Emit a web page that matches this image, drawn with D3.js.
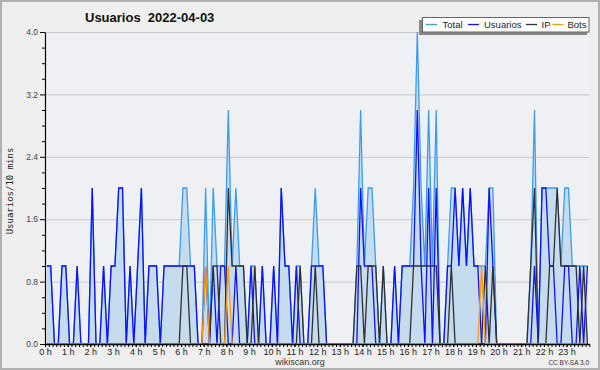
<!DOCTYPE html>
<html><head><meta charset="utf-8">
<script src="https://cdn.jsdelivr.net/npm/d3@7"></script>
<style>
html,body{margin:0;padding:0;background:#efefef;}
svg{display:block;}
</style></head><body>
<svg id="c" width="600" height="370"></svg>
<script>
// ---- data (one value per 10-minute slot, 144 slots) ----
const title = "Usuarios  2022-04-03";
const yLabel = "Usuarios/10 mins";
const hourLabels = ["0 h","1 h","2 h","3 h","4 h","5 h","6 h","7 h","8 h","9 h","10 h","11 h",
  "12 h","13 h","14 h","15 h","16 h","17 h","18 h","19 h","20 h","21 h","22 h","23 h"];
const yTicks = [0, 0.8, 1.6, 2.4, 3.2, 4.0];
const seriesNames = ["Total", "Usuarios", "IP", "Bots"];

const total = [
  1,1,0,0,1,1, 0,0,1,0,0,0, 2,0,0,1,0,1, 1,2,2,0,1,0,
  1,2,0,1,1,1, 0,1,1,1,1,1, 2,2,1,1,0,0, 2,0,2,1,1,1,
  3,1,2,1,1,0, 1,1,0,1,0,0, 1,0,2,1,1,0, 1,1,0,0,1,2,
  1,1,0,0,0,0, 0,0,0,0,1,3, 1,2,2,1,0,1, 0,0,1,0,1,1,
  1,2,4,2,1,3, 1,3,0,0,1,2, 2,1,2,1,2,1, 1,1,1,2,2,0,
  0,0,0,0,0,0, 0,0,1,3,0,2, 2,2,2,2,1,2, 2,1,1,1,1,1
];
const usuarios = [
  1,1,0,0,1,1, 0,0,1,0,0,0, 2,0,0,1,0,1, 1,2,2,0,1,0,
  1,2,0,1,1,1, 0,1,1,1,1,1, 1,1,1,1,0,0, 1,0,1,0,1,1,
  0,0,1,0,0,0, 1,0,0,1,0,0, 1,0,2,1,1,0, 1,0,0,0,1,1,
  1,1,0,0,0,0, 0,0,0,0,0,2, 1,1,1,0,0,0, 0,0,1,0,1,1,
  1,1,3,1,0,2, 0,2,0,0,1,1, 2,1,2,1,2,1, 1,0,0,2,1,0,
  0,0,0,0,0,0, 0,0,0,1,0,2, 2,1,1,0,0,1, 1,0,0,1,0,1
];
const ip = [
  0,0,0,0,0,0, 0,0,0,0,0,0, 0,0,0,0,0,0, 0,0,0,0,0,0,
  0,0,0,0,0,0, 0,0,0,0,0,0, 1,1,0,0,0,0, 0,0,1,1,0,0,
  2,1,1,1,1,0, 0,1,0,0,0,0, 0,0,0,0,0,0, 0,1,0,0,0,1,
  0,0,0,0,0,0, 0,0,0,0,1,1, 0,1,1,1,0,1, 0,0,0,0,0,0,
  0,1,1,1,1,1, 1,1,0,0,0,1, 0,0,0,0,0,0, 0,0,1,0,1,0,
  0,0,0,0,0,0, 0,0,1,2,0,0, 0,1,1,2,1,1, 1,1,1,0,1,0
];
const bots = [
  0,0,0,0,0,0, 0,0,0,0,0,0, 0,0,0,0,0,0, 0,0,0,0,0,0,
  0,0,0,0,0,0, 0,0,0,0,0,0, 0,0,0,0,0,0, 1,0,0,0,0,0,
  1,0,0,0,0,0, 0,0,0,0,0,0, 0,0,0,0,0,0, 0,0,0,0,0,0,
  0,0,0,0,0,0, 0,0,0,0,0,0, 0,0,0,0,0,0, 0,0,0,0,0,0,
  0,0,0,0,0,0, 0,0,0,0,0,0, 0,0,0,0,0,0, 0,1,0,0,0,0,
  0,0,0,0,0,0, 0,0,0,0,0,0, 0,0,0,0,0,0, 0,0,0,0,0,0
];

// ---- layout ----
const svg = d3.select("#c");
const W = 600, H = 370;
const L = 45, R = 589.3, T = 32, B = 344;
const colors = {Total: "#3c9cf0", Usuarios: "#1010ff", IP: "#303030", Bots: "#ff9a10"};

svg.append("rect").attr("x", 1).attr("y", 1).attr("width", W - 2).attr("height", H - 2)
  .attr("fill", "#efefef").attr("stroke", "#b0b0b0").attr("stroke-width", 2);

const x = d3.scaleLinear().domain([0, 24]).range([L, R]);
const y = d3.scaleLinear().domain([0, 4]).range([B, T]);
const slotX = i => x((i + 0.5) / 6);

svg.append("rect").attr("x", L).attr("y", T).attr("width", R - L).attr("height", B - T)
  .attr("fill", "#eef0f3");

// grid
svg.append("g").selectAll("line").data(yTicks.filter(v => v > 0)).join("line")
  .attr("x1", L).attr("x2", R).attr("y1", d => y(d) + 0.5).attr("y2", d => y(d) + 0.5)
  .attr("stroke", "#c9c9c9").attr("stroke-width", 1);

// series
svg.append("clipPath").attr("id", "pc").append("rect")
  .attr("x", L).attr("y", T - 2).attr("width", R - L + 1).attr("height", B - T + 2);
const g = svg.append("g").attr("clip-path", "url(#pc)");

g.append("path").datum(total)
  .attr("d", d3.area().x((d, i) => slotX(i)).y0(y(0)).y1(d => y(d)))
  .attr("fill", "#c5dcef");

const line = d3.line().x((d, i) => slotX(i)).y(d => y(d));
[["Total", total], ["Usuarios", usuarios], ["IP", ip], ["Bots", bots]].forEach(([name, arr]) => {
  g.append("path").datum(arr).attr("d", line)
    .attr("fill", "none").attr("stroke", colors[name]).attr("stroke-width", 1.3)
    .attr("stroke-linejoin", "miter");
});

// y axis
const minorY = d3.range(0, 4.0001, 0.2).filter(v => !yTicks.some(t => Math.abs(t - v) < 1e-6));
const yAxMinor = svg.append("g").attr("transform", `translate(${L},0)`)
  .call(d3.axisLeft(y).tickValues(minorY).tickSize(3).tickFormat(""));
yAxMinor.select(".domain").remove();
const yAx = svg.append("g").attr("transform", `translate(${L},0)`)
  .call(d3.axisLeft(y).tickValues(yTicks).tickSize(5).tickSizeOuter(0).tickFormat(d3.format(".1f")));
yAx.selectAll("text").attr("font-family", "Liberation Sans, Arial, sans-serif")
  .attr("font-size", 8.5).attr("fill", "#444").attr("dx", 1);
svg.selectAll(".tick line").attr("stroke", "#000");
yAx.select(".domain").attr("stroke", "#000").attr("stroke-width", 1.2);

// x axis
const xMinor = svg.append("g").attr("transform", `translate(0,${B})`)
  .call(d3.axisBottom(x).tickValues(d3.range(0, 144).map(i => i / 6).concat([24])).tickSize(3).tickFormat(""));
xMinor.select(".domain").remove();
xMinor.selectAll(".tick line").attr("stroke", "#000");
const xAx = svg.append("g").attr("transform", `translate(0,${B})`)
  .call(d3.axisBottom(x).tickValues(d3.range(0, 24)).tickSize(3).tickSizeOuter(0)
    .tickFormat(h => hourLabels[h]));
xAx.selectAll("text").attr("font-family", "Liberation Sans, Arial, sans-serif")
  .attr("font-size", 9).attr("fill", "#222").attr("dy", "0.55em");
xAx.selectAll(".tick line").attr("stroke", "#000");
xAx.select(".domain").attr("stroke", "#000").attr("stroke-width", 1.6);

// title
svg.append("text").attr("x", 85).attr("y", 22).text(title)
  .attr("font-family", "Liberation Sans, Arial, sans-serif").attr("font-weight", "bold")
  .attr("font-size", 13).attr("fill", "#111").style("white-space", "pre");

// y label
svg.append("text").attr("transform", `translate(13,${(T + B) / 2 + 3}) rotate(-90)`)
  .attr("text-anchor", "middle").text(yLabel)
  .attr("font-family", "DejaVu Sans Mono, monospace").attr("font-size", 9).attr("fill", "#222");

// footer
svg.append("text").attr("x", 300).attr("y", 365).attr("text-anchor", "middle").text("wikiscan.org")
  .attr("font-family", "Liberation Sans, Arial, sans-serif").attr("font-size", 9).attr("fill", "#333");
svg.append("text").attr("x", 589).attr("y", 365).attr("text-anchor", "end").text("CC BY-SA 3.0")
  .attr("font-family", "Liberation Sans, Arial, sans-serif").attr("font-size", 6.5).attr("fill", "#333");

// legend
const lg = svg.append("g");
lg.append("rect").attr("x", 419).attr("y", 20).attr("width", 168).attr("height", 15).attr("fill", "#888");
lg.append("rect").attr("x", 422.5).attr("y", 17.5).attr("width", 166.5).attr("height", 14.5)
  .attr("fill", "#fff").attr("stroke", "#666").attr("stroke-width", 1);
const legendItems = [
  {name: "Total", lx: 426, tx: 442.5},
  {name: "Usuarios", lx: 468, tx: 484},
  {name: "IP", lx: 526, tx: 541.5},
  {name: "Bots", lx: 552.5, tx: 567.5}
];
legendItems.forEach(it => {
  lg.append("line").attr("x1", it.lx).attr("x2", it.lx + 11).attr("y1", 24.5).attr("y2", 24.5)
    .attr("stroke", colors[it.name]).attr("stroke-width", 1.3);
  lg.append("text").attr("x", it.tx).attr("y", 28.3).text(it.name)
    .attr("font-family", "Liberation Sans, Arial, sans-serif").attr("font-size", 9.5).attr("fill", "#222");
});
</script>
</body></html>
